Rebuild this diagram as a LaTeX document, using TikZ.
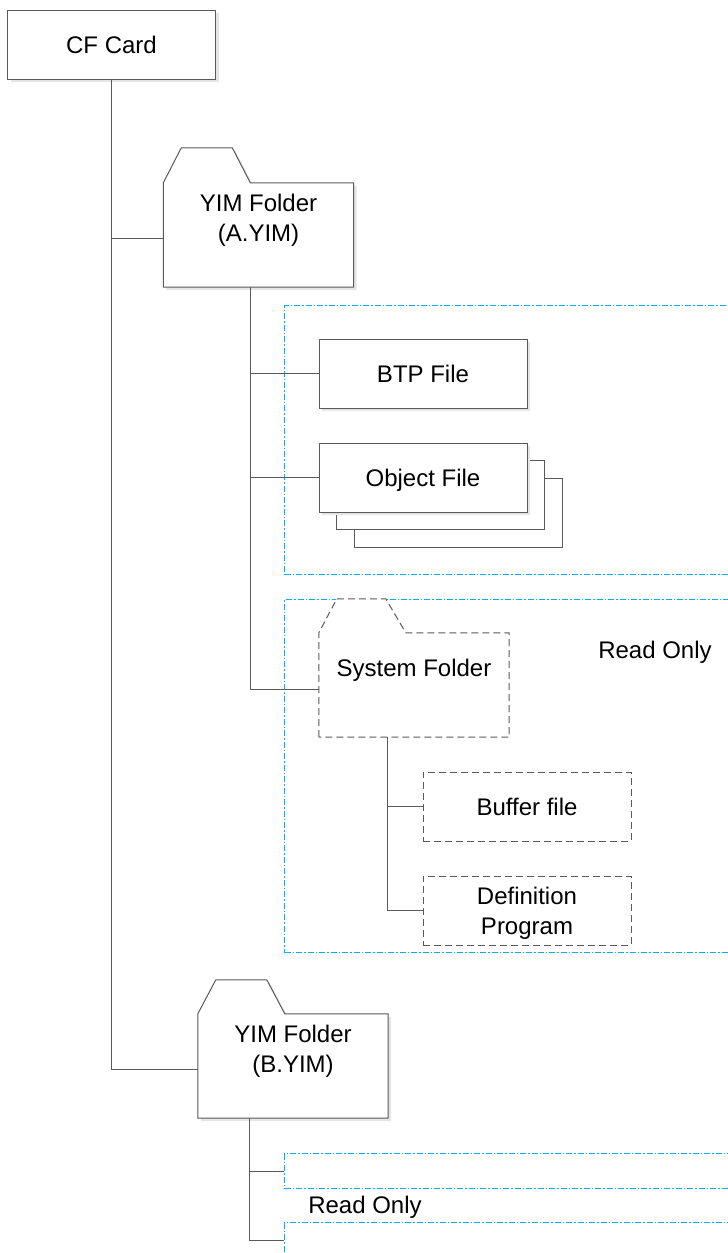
\documentclass[tikz,border=0pt]{standalone}
\usepackage{fontspec}
\setmainfont{Liberation Sans}
\usetikzlibrary{positioning,shadows}
\definecolor{linegray}{RGB}{90,90,90}
\definecolor{zoneblue}{RGB}{0,176,240}

\begin{document}
\begin{tikzpicture}[x=1pt,y=-1pt,
  box/.style={rectangle,draw=linegray,fill=white,line width=1pt,minimum width=208pt,minimum height=69pt,text height=17pt,text depth=0pt,align=center},
  twolines/.style={text height=47pt},
  boxshadow/.style={drop shadow={shadow xshift=3pt,shadow yshift=-3pt,fill=black!10,opacity=1}},
  dashbox/.style={box,dash pattern=on 7pt off 4pt},
  body/.style={minimum width=190pt,minimum height=104pt,inner sep=0pt},
  folderline/.style={draw=linegray,fill=white,line width=1pt},
  foldertext/.style={inner sep=0pt,text height=17pt,text depth=0pt,align=center},
  conn/.style={draw=linegray,line width=1pt},
  zone/.style={rectangle,draw=zoneblue,line width=1pt,dash pattern=on 6pt off 2pt on 1.5pt off 2pt,anchor=north west,minimum width=500pt,inner sep=0pt}]
\tikzstyle{every node}=[font=\fontsize{24}{30}\selectfont]
\useasboundingbox (0,0) rectangle (728,1253);
\clip (0,0) rectangle (728,1253);

% read only areas
\node[zone,minimum height=269pt] (zone1) at (284,305) {};
\node[zone,minimum height=353pt] (zone2) at (284,599) {};
\node[zone,minimum height=35pt] (zone3) at (284,1153) {};
\node[zone,minimum height=35pt] (zone4) at (284,1222) {};
\node[anchor=base] (ro1) at (655,658) {Read Only};
\node[anchor=base] (ro2) at (365,1213) {Read Only};

\node[box,boxshadow] (cf) at (111.5,44.5) {CF Card};

% folder A
\node[body] (fa) at (258.5,235) {};
\draw[folderline,boxshadow] (fa.south west) -- (fa.north west) -- ++(18,-35) -- ++(51,0) -- ++(18,35) -- (fa.north east) -- (fa.south east) -- cycle;
\node[foldertext,twolines,below=11pt of fa.north] (fatext) {YIM Folder\\(A.YIM)};

\node[box,boxshadow] (btp) at (423,373.5) {BTP File};
\node[box,
  copy shadow={shadow xshift=35pt,shadow yshift=-35pt,draw=linegray,fill=white},
  copy shadow={shadow xshift=17pt,shadow yshift=-17pt,draw=linegray,fill=white},
  boxshadow] (obj) at (423,477.5) {Object File};

% system folder
\node[body] (fsys) at (414,685) {};
\draw[folderline,dash pattern=on 7pt off 4pt] (fsys.south west) -- (fsys.north west) -- ++(18,-34) -- ++(49,0) -- ++(20,34) -- (fsys.north east) -- (fsys.south east) -- cycle;
\node[foldertext,below=26pt of fsys.north] (fsystext) {System Folder};

\node[dashbox] (buf) at (527,806.5) {Buffer file};
\node[dashbox,twolines] (defp) at (527,910.5) {Definition\\Program};

% folder B
\node[body] (fb) at (293,1066) {};
\draw[folderline,boxshadow] (fb.south west) -- (fb.north west) -- ++(18,-34) -- ++(51,0) -- ++(18,34) -- (fb.north east) -- (fb.south east) -- cycle;
\node[foldertext,twolines,below=11pt of fb.north] (fbtext) {YIM Folder\\(B.YIM)};

% tree lines
\draw[conn] (cf.south) |- ([yshift=-3pt]fa.west);
\draw[conn] (cf.south) |- ([yshift=-3pt]fb.west);
\draw[conn] ([xshift=87pt]fa.south west) |- (btp.west);
\draw[conn] ([xshift=87pt]fa.south west) |- (obj.west);
\draw[conn] ([xshift=87pt]fa.south west) |- ([yshift=-4pt]fsys.west);
\draw[conn] ([xshift=69pt]fsys.south west) |- (buf.west);
\draw[conn] ([xshift=69pt]fsys.south west) |- (defp.west);
\draw[conn] ([xshift=52pt]fb.south west) |- (zone3.west);
\draw[conn] ([xshift=52pt]fb.south west) |- (zone4.west);
\end{tikzpicture}
\end{document}
